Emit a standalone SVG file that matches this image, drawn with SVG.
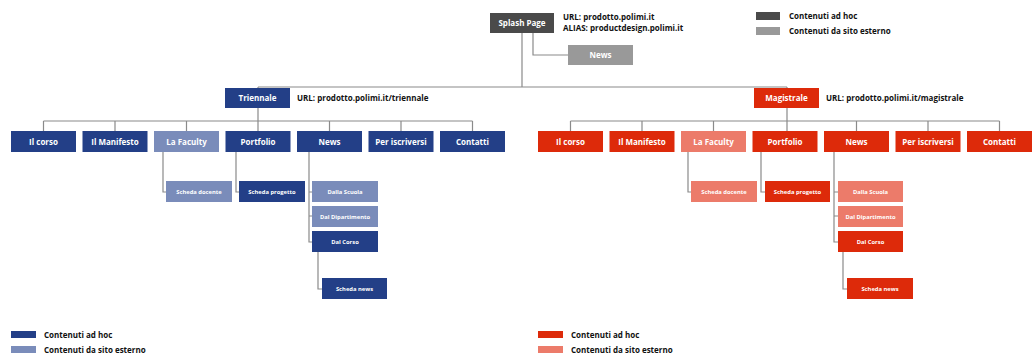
<svg xmlns="http://www.w3.org/2000/svg" width="1032" height="356" viewBox="0 0 1032 356">
<style>
text{font-family:"Open Sans","Liberation Sans",sans-serif;font-weight:700}
.l{fill:#fff;font-size:8px;text-anchor:middle}
.s{fill:#fff;font-size:5.8px;text-anchor:middle}
.k{fill:#111;font-size:8px}
.db{fill:#233f87}.lb{fill:#7a8cba}.dr{fill:#dd2a0a}.lr{fill:#ec7b6a}.dg{fill:#4a4a4a}.lg{fill:#999}
.c{fill:none;stroke:#8a8a8a;stroke-width:1.2}
</style>
<rect width="1032" height="356" fill="#fff"/>
<g id="connectors">
<path class="c" d="M522,33V87M258,87H787M533,33V55H568"/>
<path class="c" d="M258,87V131M43.5,121H472.5M43.5,121V131M115,121V131M186.5,121V131M329.5,121V131M401,121V131M472.5,121V131"/>
<path class="c" d="M163,152V192H166M236,152V192H239M309,152V242H312M309,192H312M309,216H312M318,252V289H322"/>
<path class="c" d="M787,87V131M570.5,121H999.5M570.5,121V131M642,121V131M713.5,121V131M856.5,121V131M928,121V131M999.5,121V131"/>
<path class="c" d="M688,152V192H691M761,152V192H765M834,152V242H838M834,192H838M834,216H838M843,252V289H847"/>
</g>
<g id="splash"><rect class="dg" x="490" y="13" width="64" height="20"/><text class="l" x="522" y="26">Splash Page</text></g>
<g id="splash-url"><text class="k" x="563" y="20">URL: prodotto.polimi.it</text><text class="k" x="563" y="31">ALIAS: productdesign.polimi.it</text></g>
<g id="news-top"><rect class="lg" x="568" y="45" width="65" height="20"/><text class="l" x="600.5" y="58">News</text></g>
<g id="legend-top">
<rect class="dg" x="756" y="12" width="24" height="8"/><text class="k" x="789" y="19">Contenuti ad hoc</text>
<rect class="lg" x="756" y="27" width="24" height="8"/><text class="k" x="789" y="34">Contenuti da sito esterno</text>
</g>
<g id="triennale"><rect class="db" x="225" y="88" width="65" height="20"/><text class="l" x="257.5" y="101">Triennale</text></g>
<text class="k" x="297" y="101">URL: prodotto.polimi.it/triennale</text>
<g id="t-corso"><rect class="db" x="11" y="131" width="65" height="21"/><text class="l" x="43.5" y="144.5">Il corso</text></g>
<g id="t-manifesto"><rect class="db" x="82.5" y="131" width="65" height="21"/><text class="l" x="115" y="144.5">Il Manifesto</text></g>
<g id="t-faculty"><rect class="lb" x="154" y="131" width="65" height="21"/><text class="l" x="186.5" y="144.5">La Faculty</text></g>
<g id="t-portfolio"><rect class="db" x="225.5" y="131" width="65" height="21"/><text class="l" x="258" y="144.5">Portfolio</text></g>
<g id="t-news"><rect class="db" x="297" y="131" width="65" height="21"/><text class="l" x="329.5" y="144.5">News</text></g>
<g id="t-iscriversi"><rect class="db" x="368.5" y="131" width="65" height="21"/><text class="l" x="401" y="144.5">Per iscriversi</text></g>
<g id="t-contatti"><rect class="db" x="440" y="131" width="65" height="21"/><text class="l" x="472.5" y="144.5">Contatti</text></g>
<g id="t-docente"><rect class="lb" x="166" y="181" width="66" height="21"/><text class="s" x="199" y="193.5">Scheda docente</text></g>
<g id="t-progetto"><rect class="db" x="239" y="181" width="66" height="21"/><text class="s" x="272" y="193.5">Scheda progetto</text></g>
<g id="t-scuola"><rect class="lb" x="312" y="181" width="66" height="21"/><text class="s" x="345" y="193.5">Dalla Scuola</text></g>
<g id="t-dipartimento"><rect class="lb" x="312" y="206" width="66" height="21"/><text class="s" x="345" y="218.5">Dal Dipartimento</text></g>
<g id="t-dalcorso"><rect class="db" x="312" y="231" width="66" height="21"/><text class="s" x="345" y="243.5">Dal Corso</text></g>
<g id="t-schedanews"><rect class="db" x="322" y="278" width="65" height="21"/><text class="s" x="354.5" y="290.5">Scheda news</text></g>
<g id="magistrale"><rect class="dr" x="754" y="88" width="65" height="20"/><text class="l" x="786.5" y="101">Magistrale</text></g>
<text class="k" x="826" y="101">URL: prodotto.polimi.it/magistrale</text>
<g id="m-corso"><rect class="dr" x="538" y="131" width="65" height="21"/><text class="l" x="570.5" y="144.5">Il corso</text></g>
<g id="m-manifesto"><rect class="dr" x="609.5" y="131" width="65" height="21"/><text class="l" x="642" y="144.5">Il Manifesto</text></g>
<g id="m-faculty"><rect class="lr" x="681" y="131" width="65" height="21"/><text class="l" x="713.5" y="144.5">La Faculty</text></g>
<g id="m-portfolio"><rect class="dr" x="752.5" y="131" width="65" height="21"/><text class="l" x="785" y="144.5">Portfolio</text></g>
<g id="m-news"><rect class="dr" x="824" y="131" width="65" height="21"/><text class="l" x="856.5" y="144.5">News</text></g>
<g id="m-iscriversi"><rect class="dr" x="895.5" y="131" width="65" height="21"/><text class="l" x="928" y="144.5">Per iscriversi</text></g>
<g id="m-contatti"><rect class="dr" x="967" y="131" width="65" height="21"/><text class="l" x="999.5" y="144.5">Contatti</text></g>
<g id="m-docente"><rect class="lr" x="691" y="181" width="66" height="21"/><text class="s" x="724" y="193.5">Scheda docente</text></g>
<g id="m-progetto"><rect class="dr" x="765" y="181" width="65" height="21"/><text class="s" x="797.5" y="193.5">Scheda progetto</text></g>
<g id="m-scuola"><rect class="lr" x="838" y="181" width="65" height="21"/><text class="s" x="870.5" y="193.5">Dalla Scuola</text></g>
<g id="m-dipartimento"><rect class="lr" x="838" y="206" width="65" height="21"/><text class="s" x="870.5" y="218.5">Dal Dipartimento</text></g>
<g id="m-dalcorso"><rect class="dr" x="838" y="231" width="65" height="21"/><text class="s" x="870.5" y="243.5">Dal Corso</text></g>
<g id="m-schedanews"><rect class="dr" x="847" y="278" width="66" height="21"/><text class="s" x="880" y="290.5">Scheda news</text></g>
<g id="legend-blue">
<rect class="db" x="11" y="331" width="25" height="7"/><text class="k" x="44" y="338">Contenuti ad hoc</text>
<rect class="lb" x="11" y="346" width="25" height="7"/><text class="k" x="44" y="353">Contenuti da sito esterno</text>
</g>
<g id="legend-red">
<rect class="dr" x="538" y="331" width="25" height="7"/><text class="k" x="571" y="338">Contenuti ad hoc</text>
<rect class="lr" x="538" y="346" width="25" height="7"/><text class="k" x="571" y="353">Contenuti da sito esterno</text>
</g>
</svg>
